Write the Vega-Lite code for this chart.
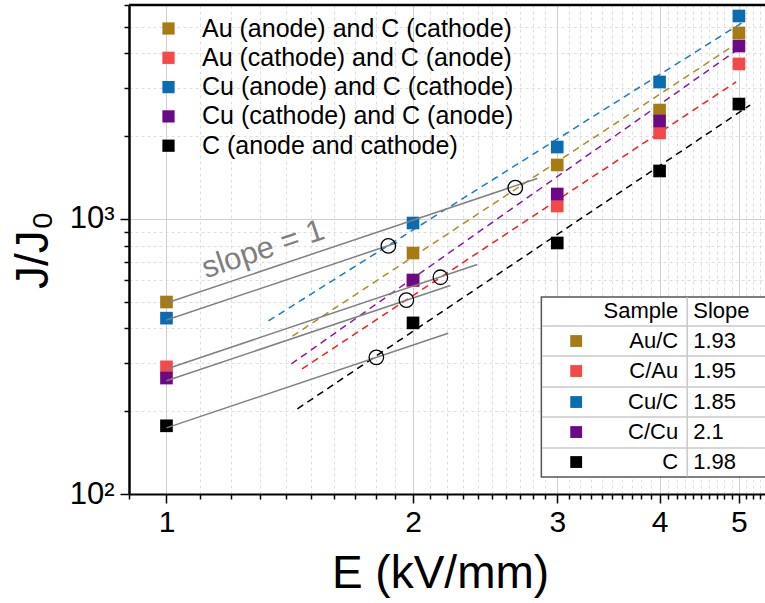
{
  "$schema": "https://vega.github.io/schema/vega-lite/v6.json",
  "width": 636,
  "height": 489,
  "autosize": "none",
  "padding": {"left": 129, "top": 5, "right": 0, "bottom": 109},
  "background": "white",
  "config": {"view": {"stroke": null}, "font": "Liberation Sans"},
  "datasets": {
    "points": [
      {"series": "Au (anode) and C (cathode)", "E": 1, "J": 499},
      {"series": "Au (anode) and C (cathode)", "E": 2, "J": 752},
      {"series": "Au (anode) and C (cathode)", "E": 3, "J": 1572},
      {"series": "Au (anode) and C (cathode)", "E": 4, "J": 2490},
      {"series": "Au (anode) and C (cathode)", "E": 5, "J": 4748},
      {"series": "Au (cathode) and C (anode)", "E": 1, "J": 290},
      {"series": "Au (cathode) and C (anode)", "E": 2, "J": 597},
      {"series": "Au (cathode) and C (anode)", "E": 3, "J": 1115},
      {"series": "Au (cathode) and C (anode)", "E": 4, "J": 2055},
      {"series": "Au (cathode) and C (anode)", "E": 5, "J": 3663},
      {"series": "Cu (anode) and C (cathode)", "E": 1, "J": 436},
      {"series": "Cu (anode) and C (cathode)", "E": 2, "J": 967},
      {"series": "Cu (anode) and C (cathode)", "E": 3, "J": 1827},
      {"series": "Cu (anode) and C (cathode)", "E": 4, "J": 3149},
      {"series": "Cu (anode) and C (cathode)", "E": 5, "J": 5472},
      {"series": "Cu (cathode) and C (anode)", "E": 1, "J": 264},
      {"series": "Cu (cathode) and C (anode)", "E": 2, "J": 600},
      {"series": "Cu (cathode) and C (anode)", "E": 3, "J": 1233},
      {"series": "Cu (cathode) and C (anode)", "E": 4, "J": 2272},
      {"series": "Cu (cathode) and C (anode)", "E": 5, "J": 4256},
      {"series": "C (anode and cathode)", "E": 1, "J": 177},
      {"series": "C (anode and cathode)", "E": 2, "J": 419},
      {"series": "C (anode and cathode)", "E": 3, "J": 818},
      {"series": "C (anode and cathode)", "E": 4, "J": 1495},
      {"series": "C (anode and cathode)", "E": 5, "J": 2618}
    ],
    "fits": [
      {"fit": "Cu/C", "E": 1.332, "J": 426},
      {"fit": "Cu/C", "E": 5.06, "J": 5204},
      {"fit": "Au/C", "E": 1.425, "J": 375},
      {"fit": "Au/C", "E": 5.045, "J": 4477},
      {"fit": "C/Cu", "E": 1.42, "J": 297},
      {"fit": "C/Cu", "E": 4.975, "J": 4117},
      {"fit": "C/Au", "E": 1.464, "J": 285},
      {"fit": "C/Au", "E": 4.96, "J": 3150},
      {"fit": "C", "E": 1.445, "J": 204},
      {"fit": "C", "E": 5.16, "J": 2597}
    ],
    "slope1": [
      {"line": "a", "E": 1, "J": 495},
      {"line": "a", "E": 2.836, "J": 1404},
      {"line": "b", "E": 1, "J": 429},
      {"line": "b", "E": 1.914, "J": 821},
      {"line": "c", "E": 1, "J": 285},
      {"line": "c", "E": 2.396, "J": 683},
      {"line": "d", "E": 1, "J": 258},
      {"line": "d", "E": 2.221, "J": 573},
      {"line": "e", "E": 1, "J": 174},
      {"line": "e", "E": 2.208, "J": 384}
    ],
    "circles": [
      {"E": 2.666, "J": 1300},
      {"E": 1.866, "J": 798},
      {"E": 2.16, "J": 614},
      {"E": 1.963, "J": 507},
      {"E": 1.804, "J": 314}
    ],
    "note": [{"label": "slope = 1", "E": 1.313, "J": 772}],
    "frame": [{"part": "box"}],
    "tableLines": [{"J": 408.2}, {"J": 317.6}, {"J": 245}, {"J": 190.5}, {"J": 147}],
    "tableHead": [{"sample": "Sample", "slope": "Slope", "J": 463}],
    "table": [
      {"series": "Au (anode) and C (cathode)", "sample": "Au/C", "slope": "1.93", "J": 360},
      {"series": "Au (cathode) and C (anode)", "sample": "C/Au", "slope": "1.95", "J": 280},
      {"series": "Cu (anode) and C (cathode)", "sample": "Cu/C", "slope": "1.85", "J": 216},
      {"series": "Cu (cathode) and C (anode)", "sample": "C/Cu", "slope": "2.1", "J": 168},
      {"series": "C (anode and cathode)", "sample": "C", "slope": "1.98", "J": 130.7}
    ]
  },
  "layer": [
    {
      "data": {"name": "fits"},
      "mark": {"type": "line", "strokeWidth": 1.5, "strokeDash": [7, 5]},
      "encoding": {
        "x": {"field": "E", "type": "quantitative"},
        "y": {"field": "J", "type": "quantitative"},
        "stroke": {
          "field": "fit", "type": "nominal", "legend": null,
          "scale": {
            "domain": ["Au/C", "C/Au", "Cu/C", "C/Cu", "C"],
            "range": ["#b08a22", "#ff1a1a", "#1a7cc4", "#8c1a9e", "#000000"]
          }
        }
      }
    },
    {
      "data": {"name": "points"},
      "mark": {"type": "point", "shape": "square", "filled": true, "size": 160, "opacity": 1},
      "encoding": {
        "x": {
          "field": "E", "type": "quantitative",
          "scale": {"type": "log", "domain": [0.9, 5.38], "nice": false, "zero": false},
          "axis": {
            "title": "E (kV/mm)",
            "titleFontSize": 46, "titleFontWeight": "normal", "titleFont": "Liberation Sans", "titleColor": "black",
            "titlePadding": 14, "titleX": 311,
            "values": [0.9, 1, 1.1, 1.2, 1.3, 1.4, 1.5, 1.6, 1.7, 1.8, 1.9, 2, 2.1, 2.2, 2.3, 2.4, 2.5, 2.6, 2.7, 2.8, 2.9, 3, 3.1, 3.2, 3.3, 3.4, 3.5, 3.6, 3.7, 3.8, 3.9, 4, 4.1, 4.2, 4.3, 4.4, 4.5, 4.6, 4.7, 4.8, 4.9, 5, 5.1, 5.2, 5.3],
            "labelExpr": "datum.value == round(datum.value) ? format(datum.value, 'd') : ''",
            "labelFontSize": 30, "labelFont": "Liberation Sans", "labelColor": "black",
            "labelPadding": 4, "labelOverlap": false, "labelBound": false, "labelFlush": false,
            "tickColor": "black", "tickWidth": 1.5,
            "tickSize": {"condition": {"test": "datum.value == round(datum.value)", "value": 9}, "value": 5},
            "domainColor": "black", "domainWidth": 2,
            "grid": true,
            "gridColor": {"condition": {"test": "datum.value == round(datum.value)", "value": "#cfcfcf"}, "value": "#dedede"},
            "gridDash": {"condition": {"test": "datum.value == round(datum.value)", "value": []}, "value": [3, 3]},
            "gridWidth": 1
          }
        },
        "y": {
          "field": "J", "type": "quantitative",
          "scale": {"type": "log", "domain": [100, 6000], "nice": false, "zero": false},
          "axis": {
            "title": "J/J₀",
            "titleFontSize": 46, "titleFontWeight": "normal", "titleFont": "Liberation Sans", "titleColor": "black",
            "titlePadding": 12,
            "values": [100, 200, 300, 400, 500, 600, 700, 800, 900, 1000, 2000, 3000, 4000, 5000, 6000],
            "labelExpr": "datum.value == 100 ? '10²' : datum.value == 1000 ? '10³' : ''",
            "labelFontSize": 31, "labelFont": "Liberation Sans", "labelColor": "black",
            "labelPadding": 6, "labelOverlap": false, "labelBound": false, "labelFlush": false,
            "tickColor": "black", "tickWidth": 1.5,
            "tickSize": {"condition": {"test": "datum.value == 100 || datum.value == 1000", "value": 9}, "value": 5},
            "domainColor": "black", "domainWidth": 2.5,
            "grid": true,
            "gridColor": {"condition": {"test": "datum.value == 100 || datum.value == 1000", "value": "#cfcfcf"}, "value": "#dedede"},
            "gridDash": {"condition": {"test": "datum.value == 100 || datum.value == 1000", "value": []}, "value": [3, 3]},
            "gridWidth": 1
          }
        },
        "fill": {
          "field": "series", "type": "nominal",
          "scale": {
            "domain": ["Au (anode) and C (cathode)", "Au (cathode) and C (anode)", "Cu (anode) and C (cathode)", "Cu (cathode) and C (anode)", "C (anode and cathode)"],
            "range": ["#a67c12", "#f54848", "#0b6cb1", "#6a0a86", "#000000"]
          },
          "legend": {
            "orient": "none", "legendX": 27, "legendY": 11,
            "title": null, "symbolType": "square", "symbolSize": 150, "symbolStrokeWidth": 0,
            "labelFontSize": 25, "labelFont": "Liberation Sans", "labelColor": "black",
            "labelOffset": 21, "rowPadding": 3.3, "labelLimit": 600, "padding": 0
          }
        }
      }
    },
    {
      "data": {"name": "slope1"},
      "mark": {"type": "line", "color": "#808080", "strokeWidth": 1.5},
      "encoding": {
        "x": {"field": "E", "type": "quantitative"},
        "y": {"field": "J", "type": "quantitative"},
        "detail": {"field": "line", "type": "nominal"}
      }
    },
    {
      "data": {"name": "circles"},
      "mark": {"type": "point", "shape": "circle", "filled": false, "stroke": "black", "strokeWidth": 1.3, "size": 210, "opacity": 1},
      "encoding": {
        "x": {"field": "E", "type": "quantitative"},
        "y": {"field": "J", "type": "quantitative"}
      }
    },
    {
      "data": {"name": "note"},
      "mark": {"type": "text", "fontSize": 31, "color": "#808080", "angle": 341.5, "align": "center", "baseline": "middle", "font": "Liberation Sans"},
      "encoding": {
        "x": {"field": "E", "type": "quantitative"},
        "y": {"field": "J", "type": "quantitative"},
        "text": {"field": "label"}
      }
    },
    {
      "data": {"name": "frame"},
      "mark": {"type": "rule", "color": "black", "strokeWidth": 2.5},
      "encoding": {
        "x": {"datum": 0.9},
        "x2": {"datum": 5.38},
        "y": {"datum": 6000}
      }
    },
    {
      "data": {"name": "frame"},
      "mark": {"type": "rect", "fill": "white", "stroke": "#555555", "strokeWidth": 1.5},
      "encoding": {
        "x": {"datum": 2.869},
        "x2": {"datum": 5.5},
        "y": {"datum": 520.5},
        "y2": {"datum": 115.3}
      }
    },
    {
      "data": {"name": "tableLines"},
      "mark": {"type": "rule", "color": "#c8c8c8", "strokeWidth": 1.5},
      "encoding": {
        "x": {"datum": 2.875},
        "x2": {"datum": 5.38},
        "y": {"field": "J", "type": "quantitative"}
      }
    },
    {
      "data": {"name": "frame"},
      "mark": {"type": "rule", "color": "#c8c8c8", "strokeWidth": 1.5},
      "encoding": {
        "x": {"datum": 4.323},
        "y": {"datum": 519},
        "y2": {"datum": 115.8}
      }
    },
    {
      "data": {"name": "tableHead"},
      "mark": {"type": "text", "fontSize": 22, "color": "black", "align": "right", "baseline": "middle", "font": "Liberation Sans"},
      "encoding": {
        "x": {"datum": 4.215},
        "y": {"field": "J", "type": "quantitative"},
        "text": {"field": "sample"}
      }
    },
    {
      "data": {"name": "tableHead"},
      "mark": {"type": "text", "fontSize": 22, "color": "black", "align": "left", "baseline": "middle", "font": "Liberation Sans"},
      "encoding": {
        "x": {"datum": 4.397},
        "y": {"field": "J", "type": "quantitative"},
        "text": {"field": "slope"}
      }
    },
    {
      "data": {"name": "table"},
      "mark": {"type": "point", "shape": "square", "filled": true, "size": 140, "opacity": 1},
      "encoding": {
        "x": {"datum": 3.164},
        "y": {"field": "J", "type": "quantitative"},
        "fill": {"field": "series", "type": "nominal"}
      }
    },
    {
      "data": {"name": "table"},
      "mark": {"type": "text", "fontSize": 22, "color": "black", "align": "right", "baseline": "middle", "font": "Liberation Sans"},
      "encoding": {
        "x": {"datum": 4.215},
        "y": {"field": "J", "type": "quantitative"},
        "text": {"field": "sample"}
      }
    },
    {
      "data": {"name": "table"},
      "mark": {"type": "text", "fontSize": 22, "color": "black", "align": "left", "baseline": "middle", "font": "Liberation Sans"},
      "encoding": {
        "x": {"datum": 4.397},
        "y": {"field": "J", "type": "quantitative"},
        "text": {"field": "slope"}
      }
    }
  ]
}
